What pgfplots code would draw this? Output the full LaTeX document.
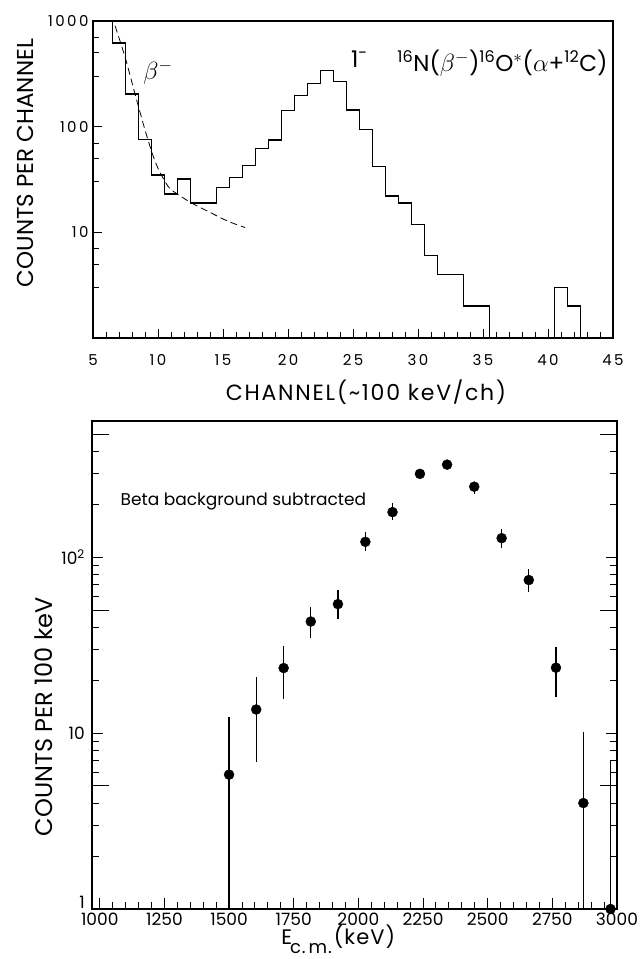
\documentclass[border=0pt]{standalone}
\usepackage{fontspec}
\setmainfont{Poppins}
\newfontfamily\lsb{Poppins}[LetterSpace=8]
\newfontfamily\lsd{Poppins}[LetterSpace=16]
\newfontfamily\lsa{Poppins}[LetterSpace=5]
\usepackage{pgfplots}
\pgfplotsset{compat=1.18}

\newcommand{\fs}[1]{\fontsize{#1}{#1}\selectfont}

\pgfplotstableread{
x y
6.5 1000
6.5 620
7.5 203
8.5 76
9.5 35
10.5 23
11.5 32
12.5 19
13.5 19
14.5 26.5
15.5 33
16.5 43
17.5 62
18.5 75
19.5 142
20.5 197
21.5 255
22.5 340
23.5 266
24.5 144
25.5 94
26.5 42
27.5 22
28.5 19
29.5 11.8
30.5 6
31.5 4
32.5 4
33.5 2
34.5 2
35.5 1
40.5 1
40.5 3
41.5 2
42.5 1
}\spectrum

\pgfplotstableread{
x y
6.7 900
7.5 440
8.4 171
9.2 77
9.9 43
10.8 27
11.6 22.6
12.6 18.9
14.2 15
15.4 12.7
16.7 11.1
}\betabg

\pgfplotstableread{
x y ep em
1500 5.8 6.5 4.8
1605 13.6 7.2 6.8
1711 23.4 7.9 7.7
1816 43 9.3 8.3
1921 54 11.3 9.4
2027 122 17 14
2132 180 22 18
2238 297 13 12
2343 335 15 15
2448 251 16 23
2554 128 16 16
2659 74 11 11
2764 23.5 7.5 7.5
2870 4.0 6.2 3.0
2975 1.0 5.9 0
}\subtracted

\begin{document}
\begin{tikzpicture}[x=1pt,y=1pt]
\useasboundingbox (0,0) rectangle (644,959);

% upper panel: raw spectrum
\begin{axis}[
  scale only axis, anchor=south west,
  at={(93pt,621pt)}, width=520pt, height=317pt,
  ymode=log, tick align=inside,
  axis line style={line width=1.3pt},
  every tick/.style={black, line width=1pt},
  major tick length=9pt, minor tick length=6pt,
  xtick pos=bottom, ytick pos=left,
  xmin=5, xmax=45, ymin=1, ymax=1000,
  xtick={5,10,...,45}, xticklabels={5,10,15,20,25,30,35,40,45},
  minor x tick num=4,
  ytick={1,10,100,1000}, yticklabels={,10,100,1000},
  minor ytick={3,5,7,30,50,70,300,500,700},
  xticklabel style={font={\lsd\fs{15}}, anchor=base, yshift=-28pt},
  yticklabel style={font={\lsd\fs{15}}, xshift=-1pt},
  xlabel={CHANNEL(\textasciitilde 100 keV/ch)},
  ylabel={COUNTS PER CHANNEL},
  xlabel style={at={(axis description cs:0.525,0)}, anchor=center, yshift=-54pt,
    font={\lsb\fs{22}}},
  ylabel style={at={(axis description cs:-0.129,0.552)}, anchor=center,
    font=\fs{23}},
]
\addplot[const plot, line width=1.4pt] table {\spectrum};
\addplot[smooth, line width=0.8pt, dash pattern=on 7pt off 4pt] table {\betabg};
\node[font=\fs{24}] at (axis cs:10.0,329) {$\beta^{-}$};
\node[font=\fs{23}] at (axis cs:25.5,436) {1\textsuperscript{-}};
\node[font=\fs{23}] at (axis cs:36.5,400)
  {\textsuperscript{16}N($\beta^{-}$)\textsuperscript{16}O$^{\ast}$($\alpha$+\textsuperscript{12}C)};
\end{axis}

% lower panel: beta background subtracted
\begin{axis}[
  scale only axis, anchor=south west,
  at={(92pt,50pt)}, width=525pt, height=488pt,
  ymode=log, tick align=inside,
  axis line style={line width=1.3pt},
  every tick/.style={black, line width=1pt},
  major tick length=11pt, minor tick length=7pt,
  xtick pos=bottom, ytick pos=both,
  xmin=970, xmax=3000, ymin=1, ymax=593,
  xtick={1000,1250,...,3000},
  xticklabels={1000,1250,1500,1750,2000,2250,2500,2750,3000},
  minor x tick num=4,
  ytick={1,10,100}, yticklabels={\raisebox{1pt}[0pt][0pt]{1},10,10\textsuperscript{2}},
  minor ytick={2,3,4,6,7,8,9,20,30,40,60,70,80,90,200,300,400},
  extra y ticks={5,50,500}, extra y tick labels={},
  extra y tick style={major tick length=17pt},
  xticklabel style={font=\fs{17}, anchor=base, yshift=-16pt, inner sep=1pt},
  yticklabel style={font=\fs{17}, xshift=-6pt, inner sep=1pt},
  xlabel={E\kern-2pt\raisebox{-9pt}{\fs{18}c.\,m.}\kern2pt(keV)},
  ylabel={COUNTS PER 100 keV},
  xlabel style={at={(axis description cs:0.469,0)}, anchor=base, yshift=-35pt,
    inner sep=1pt, font={\lsa\fs{21}}},
  ylabel style={at={(axis description cs:-0.0914,0.394)}, anchor=center,
    font=\fs{24}},
  clip=false,
]
\addplot[only marks, mark=*, mark size=5pt, black,
  error bars/.cd, y dir=both, y explicit, error mark=none,
  error bar style={line width=1.3pt}]
  table[x=x, y=y, y error plus=ep, y error minus=em] {\subtracted};
\node[font=\fs{17}, anchor=west] at (axis cs:1067,208) {Beta background subtracted};
\end{axis}
\end{tikzpicture}
\end{document}
